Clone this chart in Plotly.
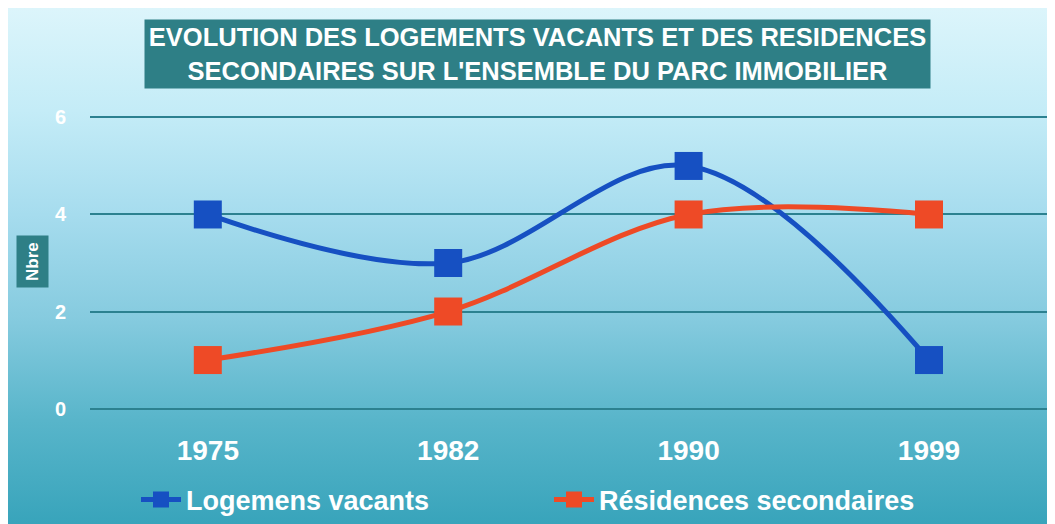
import base64
import plotly.graph_objects as go

years = ["1975", "1982", "1990", "1999"]
vacants = [4, 3, 5, 1]
secondaires = [1, 2, 4, 4]
y_ticks = [0, 2, 4, 6]
title_lines = ["EVOLUTION DES LOGEMENTS VACANTS ET DES RESIDENCES",
               "SECONDAIRES SUR L'ENSEMBLE DU PARC IMMOBILIER"]

# the page body adds an 8px margin; figure coordinates are screen - 8
OFF = 8
W, H = 1047, 516
L, R, T, B = 82, 7, 107, 113
pw, ph = W - L - R, H - T - B

def px_x(x):
    return (x - OFF - L) / pw

def px_y(y):
    return (H - B - (y - OFF)) / ph

svg = """<svg xmlns='http://www.w3.org/2000/svg' width='100' height='100' preserveAspectRatio='none'>
<defs><linearGradient id='g' x1='0' y1='0' x2='0' y2='1'>
<stop offset='0' stop-color='#dcf5fb'/>
<stop offset='0.2' stop-color='#c4ecf7'/>
<stop offset='0.4' stop-color='#a6dcee'/>
<stop offset='0.6' stop-color='#86cbdf'/>
<stop offset='0.8' stop-color='#58b5ca'/>
<stop offset='1' stop-color='#38a4bb'/>
</linearGradient></defs>
<rect x='0' y='0' width='100' height='100' fill='url(#g)'/></svg>"""
src = "data:image/svg+xml;base64," + base64.b64encode(svg.encode()).decode()

fig = go.Figure()
fig.add_trace(go.Scatter(
    x=years, y=vacants, name="Logemens vacants",
    mode="lines+markers",
    line=dict(color="#1650c2", width=5, shape="spline", smoothing=1),
    marker=dict(symbol="square", size=28, color="#1650c2"),
    cliponaxis=False,
))
fig.add_trace(go.Scatter(
    x=years, y=secondaires, name="Résidences secondaires",
    mode="lines+markers",
    line=dict(color="#ee4a26", width=5, shape="spline", smoothing=1),
    marker=dict(symbol="square", size=28, color="#ee4a26"),
    cliponaxis=False,
))

fig.add_layout_image(dict(
    source=src, xref="paper", yref="paper",
    x=-L / pw, y=(H - B) / ph, sizex=W / pw, sizey=H / ph,
    xanchor="left", yanchor="top", sizing="stretch", layer="below",
))

fig.add_annotation(
    text="<br>".join(title_lines), xref="paper", yref="paper",
    x=px_x(537), y=px_y(54), xanchor="center", yanchor="middle",
    showarrow=False, bgcolor="#2e7f86", width=779, height=62, borderpad=3,
    font=dict(family="Liberation Sans, Arial, sans-serif", size=25.5, color="white", weight="bold"),
    align="center",
)
fig.add_annotation(
    text="Nbre", xref="paper", yref="paper",
    x=px_x(32), y=px_y(262), xanchor="center", yanchor="middle",
    showarrow=False, textangle=-90, bgcolor="#2e7f86", borderpad=6,
    font=dict(family="Liberation Sans, Arial, sans-serif", size=17, color="white", weight="bold"),
)

fig.update_layout(
    width=W, height=H,
    margin=dict(l=L, r=R, t=T, b=B, pad=0, autoexpand=False),
    paper_bgcolor="white", plot_bgcolor="rgba(0,0,0,0)",
    font=dict(family="Liberation Sans, Arial, sans-serif"),
    showlegend=True,
    legend=dict(
        orientation="h", x=px_x(136), y=px_y(500), xanchor="left", yanchor="middle",
        font=dict(size=27, color="white", weight="bold"),
        bgcolor="rgba(0,0,0,0)", entrywidth=358, itemwidth=40,
    ),
    xaxis=dict(
        type="category", range=[-0.49, 3.495], showgrid=False, zeroline=False,
        showline=False, ticks="", ticklabelstandoff=20,
        tickfont=dict(size=28, color="white", weight="bold"),
    ),
    yaxis=dict(
        range=[-0.05, 6.05], tickvals=y_ticks, showgrid=True, gridcolor="#2c8190", gridwidth=2,
        zeroline=False, showline=False, ticks="", ticklabelstandoff=23,
        tickfont=dict(size=20, color="white", weight="bold"),
    ),
)

fig.write_html("out.html")
